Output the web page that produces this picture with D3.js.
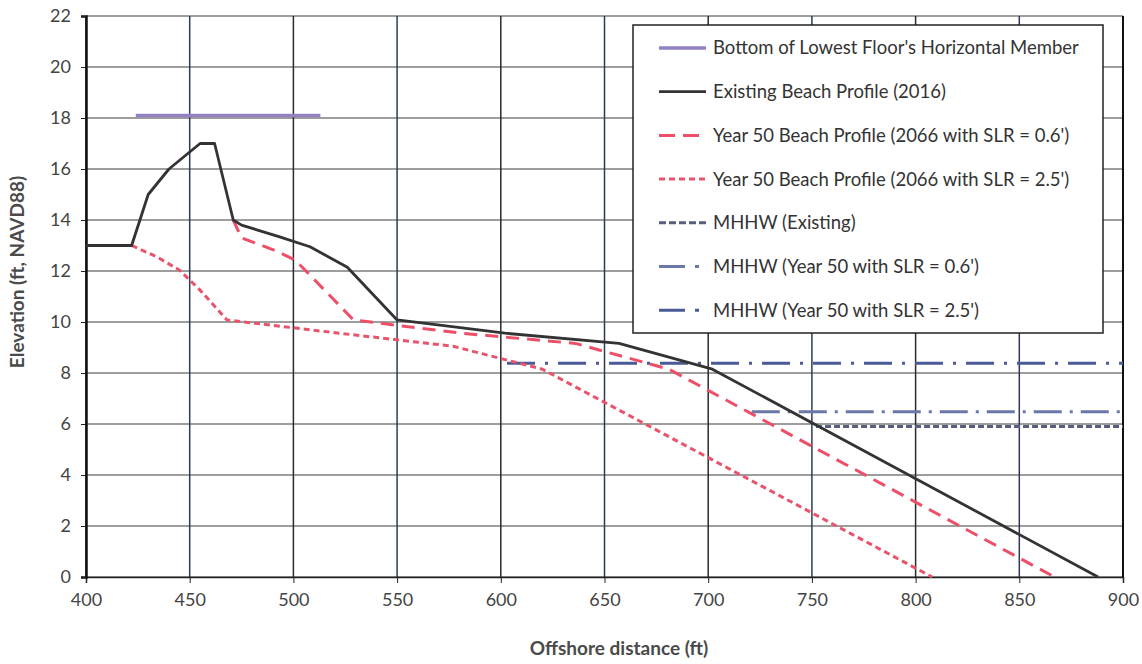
<!DOCTYPE html>
<html><head><meta charset="utf-8">
<script src="https://cdn.jsdelivr.net/npm/d3@7"></script>
<style>
html,body{margin:0;padding:0;background:#fff;}
text{font-family:Lato,"Open Sans",sans-serif;}
</style></head>
<body><svg id="c" width="1142" height="664"></svg>
<script>
// ---- data ----
const xTicks = [400,450,500,550,600,650,700,750,800,850,900];
const yTicks = [0,2,4,6,8,10,12,14,16,18,20,22];

const floorX = [424,513];
const floorY = [18.1,18.1];

const existingX = [400,422,430,440,455,462,471,475,493,508,526,550,602,657,702,888];
const existingY = [13,13,15,16,17,17,14,13.8,13.35,12.95,12.15,10.08,9.56,9.16,8.15,0];

const slr06X = [471,475,492,501,529,581,636,681,867];
const slr06Y = [14,13.3,12.78,12.42,10.08,9.56,9.16,8.15,0];

const slr25X = [422,434,445,455,468,520,577,620,808];
const slr25Y = [13,12.56,12.04,11.25,10.08,9.58,9.05,8.15,0];

const mhhwExistX = [752,900];
const mhhwExistY = [5.9,5.9];
const mhhw06X = [721,900];
const mhhw06Y = [6.48,6.48];
const mhhw25X = [603,900];
const mhhw25Y = [8.38,8.38];

const seriesNames = [
  "Bottom of Lowest Floor's Horizontal Member",
  "Existing Beach Profile (2016)",
  "Year 50 Beach Profile (2066 with SLR = 0.6')",
  "Year 50 Beach Profile (2066 with SLR = 2.5')",
  "MHHW (Existing)",
  "MHHW (Year 50 with SLR = 0.6')",
  "MHHW (Year 50 with SLR = 2.5')"
];

// ---- build ----
const series = [
  {name:seriesNames[0], x:floorX, y:floorY, color:"#9282c2", w:3.5, dash:null},
  {name:seriesNames[1], x:existingX, y:existingY, color:"#333333", w:2.8, dash:null},
  {name:seriesNames[2], x:slr06X, y:slr06Y, color:"#ee4f68", w:3, dash:"13,8"},
  {name:seriesNames[3], x:slr25X, y:slr25Y, color:"#e8546c", w:3, dash:"6,4"},
  {name:seriesNames[4], x:mhhwExistX, y:mhhwExistY, color:"#56607e", w:3, dash:"6,3"},
  {name:seriesNames[5], x:mhhw06X, y:mhhw06Y, color:"#6a78a8", w:3, dash:"28,8,3,8"},
  {name:seriesNames[6], x:mhhw25X, y:mhhw25Y, color:"#4a5a96", w:3, dash:"28,10,3,10"}
];

const svg = d3.select("#c");
const L=86, R=1123, T=16, B=577;
const x = d3.scaleLinear().domain([400,900]).range([L,R]);
const y = d3.scaleLinear().domain([0,22]).range([B,T]);

// grid
svg.append("g").selectAll("line").data(yTicks).join("line")
  .attr("x1",L).attr("x2",R).attr("y1",d=>y(d)).attr("y2",d=>y(d))
  .attr("stroke","#3c3c3c").attr("stroke-width",1.2);
svg.append("g").selectAll("line").data(xTicks).join("line")
  .attr("y1",T).attr("y2",B).attr("x1",d=>x(d)).attr("x2",d=>x(d))
  .attr("stroke",(d,i)=> (i%2? "#2e3a55":"#2a2a2a")).attr("stroke-width",1.5);

// axes
const xAxis = d3.axisBottom(x).tickValues(xTicks).tickSize(6).tickPadding(10).tickFormat(d3.format("d"));
const gx = svg.append("g").attr("transform",`translate(0,${B})`).call(xAxis);
gx.select(".domain").attr("stroke","#222").attr("stroke-width",1.5);
gx.selectAll(".tick line").attr("stroke","#222");
gx.selectAll("text").attr("font-size",18).attr("fill","#444");

const yAxis = d3.axisLeft(y).tickValues(yTicks).tickSize(5).tickPadding(10).tickFormat(d3.format("d"));
const gy = svg.append("g").attr("transform",`translate(${L},0)`).call(yAxis);
gy.select(".domain").attr("stroke","#111").attr("stroke-width",2.5);
gy.selectAll(".tick line").attr("stroke","#222");
gy.selectAll("text").attr("font-size",18).attr("fill","#444");

// right border
svg.append("line").attr("x1",R).attr("x2",R).attr("y1",T).attr("y2",B)
  .attr("stroke","#111").attr("stroke-width",2);

// axis titles
svg.append("text").attr("x",619).attr("y",655).attr("text-anchor","middle")
  .attr("font-size",19).attr("font-weight","bold").attr("fill","#4a4a4a")
  .text("Offshore distance (ft)");
svg.append("text").attr("transform","translate(24,272) rotate(-90)").attr("text-anchor","middle")
  .attr("font-size",19).attr("font-weight","bold").attr("fill","#4a4a4a")
  .text("Elevation (ft, NAVD88)");

// series lines
const line = d3.line().x(d=>x(d[0])).y(d=>y(d[1]));
const drawOrder = [4,5,6,3,2,1,0];
drawOrder.forEach(i=>{
  const s = series[i];
  const pts = s.x.map((v,k)=>[v,s.y[k]]);
  svg.append("path").attr("d",line(pts)).attr("fill","none")
    .attr("stroke",s.color).attr("stroke-width",s.w)
    .attr("stroke-dasharray",s.dash).attr("stroke-linejoin","round");
});

// legend
const lg = svg.append("g");
lg.append("rect").attr("x",633).attr("y",25).attr("width",470).attr("height",308)
  .attr("fill","#fff").attr("stroke","#222").attr("stroke-width",1.5);
const legDash = ["", "", "16,8", "6,4", "7,3", "26,10,4,10", "26,10,4,10"];
series.forEach((s,i)=>{
  const cy = 48 + i*43.7;
  lg.append("line").attr("x1",659).attr("x2",706).attr("y1",cy).attr("y2",cy)
    .attr("stroke",s.color).attr("stroke-width",s.w)
    .attr("stroke-dasharray",legDash[i]||null);
  lg.append("text").attr("x",713).attr("y",cy).attr("dy","0.35em")
    .attr("font-size",18.5).attr("fill","#333").text(s.name);
});
</script></body></html>
